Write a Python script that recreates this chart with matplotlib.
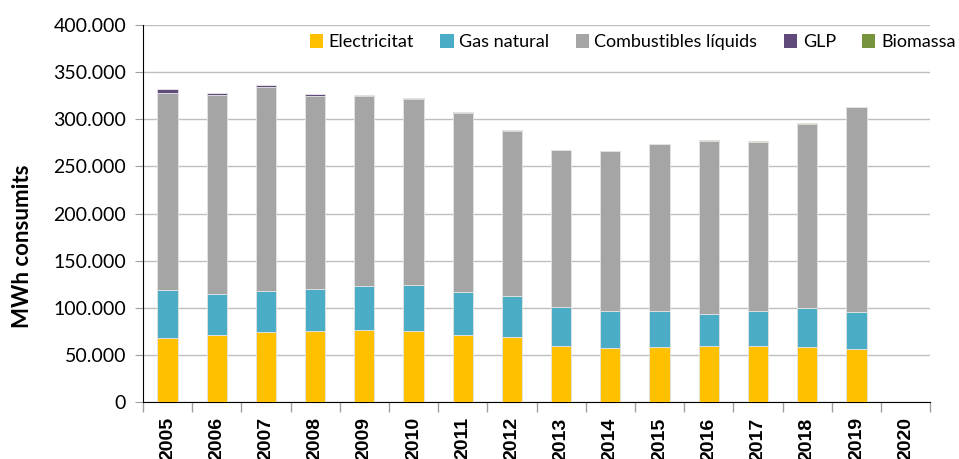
import numpy as np
import matplotlib.pyplot as plt
from matplotlib.ticker import FuncFormatter, FixedLocator

years = ['2005', '2006', '2007', '2008', '2009', '2010', '2011', '2012',
         '2013', '2014', '2015', '2016', '2017', '2018', '2019', '2020']

electricitat = [68500, 71100, 74600, 75300, 76400, 75300, 71100, 69300,
                59800, 57600, 58400, 59400, 59800, 58400, 56600, 0]
gas_natural = [50000, 43800, 42800, 44900, 47000, 48800, 45600, 43200,
               41300, 38600, 37800, 34300, 36400, 41700, 39200, 0]
combustibles = [209700, 210500, 216800, 204800, 201600, 197700, 189900, 175500,
                165900, 170100, 177500, 183300, 179800, 195400, 216900, 0]
glp = [3500, 2200, 2000, 1400, 1000, 1300, 800, 500,
       300, 200, 200, 0, 0, 0, 0, 0]
biomassa = [0, 0, 0, 0, 0, 0, 0, 0,
            300, 300, 400, 1000, 900, 1000, 0, 0]

series = [('Electricitat', electricitat, '#FFC000'),
          ('Gas natural', gas_natural, '#4BACC6'),
          ('Combustibles líquids', combustibles, '#A5A5A5'),
          ('GLP', glp, '#604A7B'),
          ('Biomassa', biomassa, '#77933C')]

plt.rcParams['font.family'] = ['Lato', 'DejaVu Sans']

fig = plt.figure(figsize=(9.59, 4.59), dpi=100)
ax = fig.add_axes([0.149, 0.124, 0.821, 0.8215])

x = np.arange(len(years))
bottom = np.zeros(len(years))
for name, vals, col in series:
    vals = np.array(vals, dtype=float)
    ax.bar(x, vals, width=0.41, bottom=bottom, color=col, label=name,
           edgecolor='#E3E3E3', linewidth=0.6, zorder=3)
    bottom += vals

ax.set_xlim(-0.5, len(years) - 0.5)
ax.set_ylim(0, 400000)
ax.set_yticks(np.arange(0, 400001, 50000))
ax.yaxis.set_major_formatter(FuncFormatter(lambda v, p: f'{int(v):,}'.replace(',', '.')))
ax.grid(axis='y', color='#BFBFBF', linewidth=1, zorder=0)

ax.set_xticks(x)
ax.set_xticklabels(years, rotation=90, fontsize=14, fontweight='bold',
                   family='Liberation Sans')
ax.tick_params(axis='x', which='major', length=0, pad=11)
ax.xaxis.set_minor_locator(FixedLocator(np.arange(-0.5, len(years), 1)))
ax.tick_params(axis='x', which='minor', length=7, color='#A0A0A0', width=1)
ax.tick_params(axis='y', length=6, color='#A0A0A0', labelsize=14, pad=6)

for s in ['top', 'right']:
    ax.spines[s].set_visible(False)
ax.spines['left'].set_color('black')
ax.spines['bottom'].set_color('black')

ax.set_ylabel('MWh consumits', fontsize=16, fontweight='bold')
ax.yaxis.set_label_coords(-0.139, 0.414)

leg = fig.legend(loc='center right', bbox_to_anchor=(1.0, 0.908), ncol=5,
                 frameon=True, fontsize=13, handlelength=0.75, handleheight=0.75,
                 handletextpad=0.3, columnspacing=1.45, borderaxespad=0.0,
                 borderpad=0.2)
leg.get_frame().set_facecolor('white')
leg.get_frame().set_edgecolor('white')
leg.get_frame().set_alpha(1)
for h in leg.legend_handles:
    h.set_linewidth(0)

fig.savefig('out.png', dpi=100)
